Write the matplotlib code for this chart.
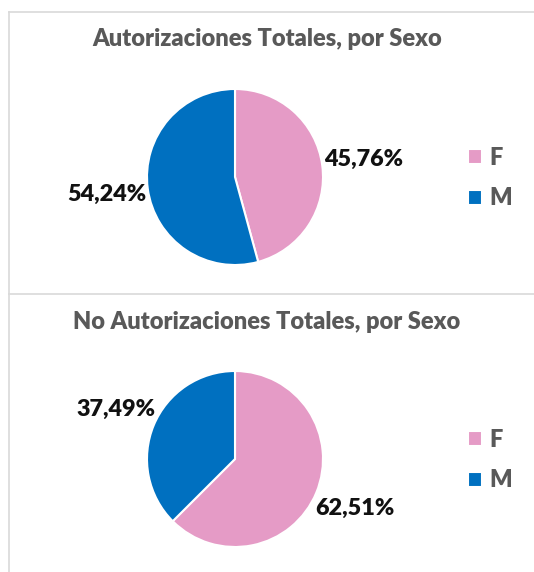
import numpy as np
import matplotlib.pyplot as plt
from matplotlib.lines import Line2D

# data
sexos = ["F", "M"]
autorizadas = [45.76, 54.24]
no_autorizadas = [62.51, 37.49]
titulos = ["Autorizaciones Totales, por Sexo", "No Autorizaciones Totales, por Sexo"]

colores = ["#E59BC6", "#0070C0"]
W, H = 534, 572

plt.rcParams['font.family'] = ['Lato', 'DejaVu Sans']
NEGRITA = 800


def pct_coma(p):
    return f"{p:.2f}%".replace(".", ",")


def px_box(x0, y0, x1, y1):
    # pixel box (top-left origin) -> figure fraction rect
    return [x0 / W, 1 - y1 / H, (x1 - x0) / W, (y1 - y0) / H]


fig = plt.figure(figsize=(W / 100, H / 100), dpi=100)

paneles = [
    (autorizadas, titulos[0], 177, 39, 177),
    (no_autorizadas, titulos[1], 459, 322, 459),
]

r = 88
cx = 235
for valores, titulo, cy, ty, ly in paneles:
    ax = fig.add_axes(px_box(cx - r, cy - r, cx + r, cy + r))
    wedges, texts, autotexts = ax.pie(valores, colors=colores, startangle=90, counterclock=False,
                                      autopct=pct_coma, pctdistance=1.47,
                                      wedgeprops=dict(edgecolor="white", linewidth=1.5))
    for t in autotexts:
        t.set_fontsize(16.8)
        t.set_fontweight(NEGRITA)
        t.set_color("#111111")
    ax.set_xlim(-1, 1)
    ax.set_ylim(-1, 1)
    ax.set_aspect("equal")
    fig.text(267 / W, 1 - ty / H, titulo, ha="center", va="center",
             fontsize=17, fontweight=NEGRITA, color="#595959")
    fig.legend(wedges, sexos, loc="center left", bbox_to_anchor=(456 / W, 1 - (ly + 1) / H),
               frameon=False, borderpad=0, handlelength=0.6, handleheight=0.6, handletextpad=0.3,
               labelspacing=0.8, prop=dict(size=17, weight=NEGRITA), labelcolor="#595959")

# panel borders
gris = "#D9D9D9"
fig.add_artist(Line2D([9 / W, 9 / W], [1 - 12 / H, 0], color=gris, lw=1.2))
fig.add_artist(Line2D([9 / W, 1], [1 - 12 / H, 1 - 12 / H], color=gris, lw=1.2))
fig.add_artist(Line2D([9 / W, 1], [1 - 294 / H, 1 - 294 / H], color=gris, lw=1.2))

fig.savefig("out.png", dpi=100)
